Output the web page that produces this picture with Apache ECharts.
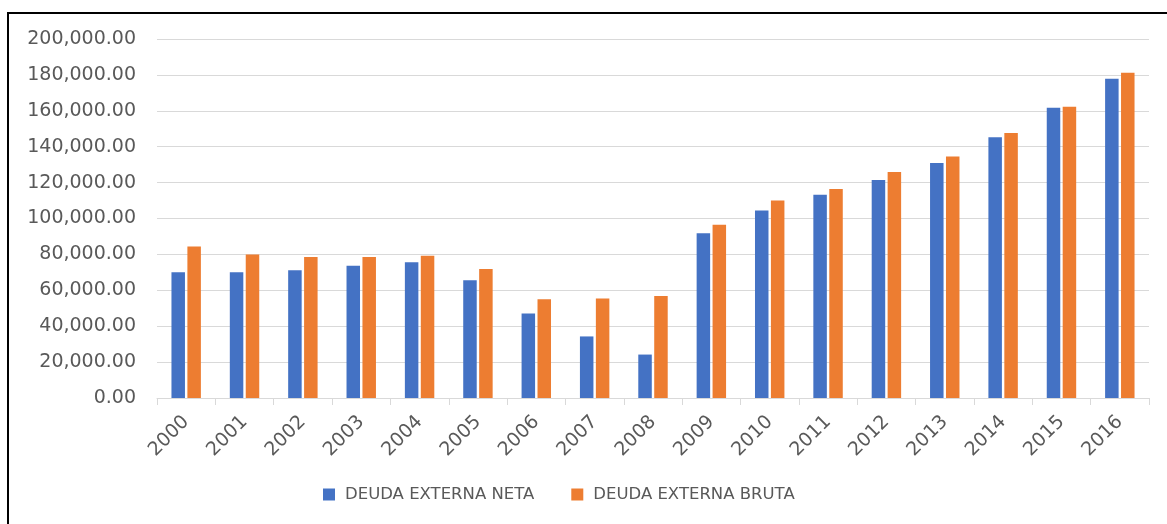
<!DOCTYPE html>
<html>
<head>
<meta charset="utf-8">
<script src="https://cdn.jsdelivr.net/npm/echarts@6/dist/echarts.min.js"></script>
<style>
  html, body { margin: 0; padding: 0; background: #fff; }
  #wrap { position: relative; width: 1167px; height: 524px; overflow: hidden; }
  #chart { position: absolute; left: 0; top: 0; width: 1167px; height: 524px; }
  #frame {
    position: absolute; left: 7px; top: 12px; width: 1200px; height: 600px;
    border-left: 2px solid #000; border-top: 2px solid #000;
    pointer-events: none;
  }
</style>
</head>
<body>
<div id="wrap">
  <div id="chart"></div>
  <div id="frame"></div>
</div>
<script>
// años
const years = ['2000', '2001', '2002', '2003', '2004', '2005', '2006', '2007', '2008',
  '2009', '2010', '2011', '2012', '2013', '2014', '2015', '2016']
// deuda externa neta
const deudaNeta = [70000, 70000, 71200, 73700, 75600, 65600, 47100, 34300, 24200,
  91800, 104500, 113200, 121400, 130900, 145200, 161700, 177900]
// deuda externa bruta
const deudaBruta = [84400, 79900, 78600, 78600, 79300, 71900, 55000, 55500, 56800,
  96500, 110000, 116400, 125900, 134500, 147700, 162200, 181200]

const myChart = echarts.init(document.getElementById('chart'))

const fmt = (v) => v.toLocaleString('en-US', { minimumFractionDigits: 2, maximumFractionDigits: 2 })

const option = {
  animation: false,
  textStyle: { fontFamily: 'DejaVu Sans' },
  grid: {
    left: 157,
    right: 18,
    top: 39,
    bottom: 126,
  },
  legend: {
    left: 318,
    top: 481,
    itemWidth: 12,
    itemHeight: 12,
    itemGap: 37,
    icon: 'rect',
    textStyle: { fontSize: 16.5, color: '#595959', padding: [0, 0, 0, 5] },
    data: ['DEUDA EXTERNA NETA', 'DEUDA EXTERNA BRUTA'],
  },
  xAxis: {
    type: 'category',
    data: years,
    axisLine: { lineStyle: { color: '#d9d9d9', width: 1 } },
    axisTick: { show: true, length: 7, lineStyle: { color: '#d9d9d9' } },
    axisLabel: {
      rotate: 45,
      margin: 21,
      fontSize: 19,
      color: '#595959',
    },
  },
  yAxis: {
    type: 'value',
    min: 0,
    max: 200000,
    interval: 20000,
    axisLine: { show: false },
    axisTick: { show: false },
    axisLabel: {
      margin: 21,
      fontSize: 19,
      color: '#595959',
      formatter: fmt,
    },
    splitLine: { lineStyle: { color: '#d9d9d9', width: 1 } },
  },
  series: [
    {
      name: 'DEUDA EXTERNA NETA',
      type: 'bar',
      data: deudaNeta,
      barWidth: 13.5,
      barGap: '18%',
      itemStyle: { color: '#4472C4' },
    },
    {
      name: 'DEUDA EXTERNA BRUTA',
      type: 'bar',
      data: deudaBruta,
      barWidth: 13.5,
      itemStyle: { color: '#ED7D31' },
    },
  ],
}

myChart.setOption(option)
</script>
</body>
</html>
